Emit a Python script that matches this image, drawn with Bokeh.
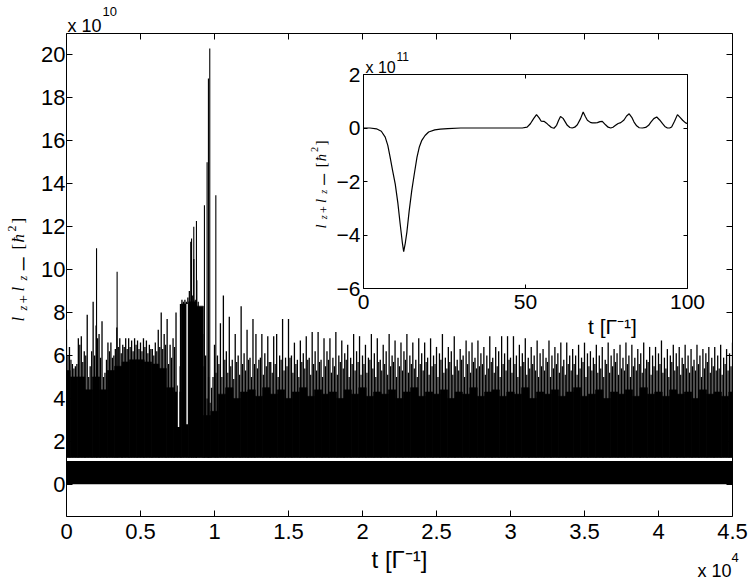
from bokeh.plotting import figure
from bokeh.models import Range1d, LinearAxis, FixedTicker, Label
from bokeh.embed import file_html
from bokeh.resources import INLINE

# ---------------- main panel data (t in 1e4 Gamma^-1, signal in 1e10 hbar^2) ----------------
spike_dt = 0.02
spike_peaks = [
    7.2, 6.4, 5.6, 5.5, 6.8, 6.9, 6.2, 7.9, 5.5, 8.5,
    7.4, 7.0, 7.6, 5.2, 6.6, 6.6, 6.0, 7.3, 6.8, 6.5,
    6.8, 6.8, 6.7, 6.8, 6.7, 6.6, 6.8, 6.7, 6.5, 6.3,
    6.6, 7.2, 8.0, 7.0, 7.7, 6.5, 6.8, 8.0, 5.5, 8.6,
    8.6, 8.7, 11.3, 10.5, 9.5, 8.0, 7.0, 6.0, 5.0, 4.5,
    6.5, 6.0, 7.5, 8.8, 6.2, 7.8, 5.8, 7.0, 6.0, 8.3,
    6.1, 7.2, 5.9, 7.7, 7.0, 5.8, 7.0, 6.1, 6.9, 5.7,
    6.9, 7.0, 6.0, 7.7, 5.9, 7.7, 6.0, 6.6, 5.8, 6.7,
    6.1, 6.9, 5.9, 7.1, 6.2, 7.1, 5.8, 6.8, 6.2, 6.8,
    5.9, 7.1, 6.0, 6.7, 6.1, 6.5, 5.9, 7.0, 6.2, 6.9,
    6.0, 6.5, 5.9, 7.0, 6.1, 6.8, 5.8, 6.5, 6.2, 7.0,
    6.0, 6.7, 5.9, 6.6, 6.2, 7.0, 6.0, 6.6, 5.8, 6.8,
    6.1, 6.6, 5.9, 6.8, 6.0, 6.4, 6.1, 7.0, 5.9, 6.4,
    6.2, 6.9, 5.8, 6.3, 6.0, 6.7, 6.2, 6.6, 5.9, 6.7,
    6.1, 6.4, 6.0, 6.9, 5.9, 6.4, 6.2, 6.9, 6.1, 6.9,
    5.9, 6.9, 6.0, 6.5, 6.1, 6.8, 5.9, 6.4, 6.0, 6.7,
    6.1, 6.3, 5.9, 6.7, 6.0, 6.4, 6.1, 6.6, 5.8, 6.6,
    6.0, 6.3, 6.0, 6.5, 5.9, 6.6, 6.1, 6.2, 5.9, 6.5,
    6.0, 6.4, 5.8, 6.6, 6.0, 6.3, 6.1, 6.5, 5.9, 6.6,
    6.0, 6.5, 5.9, 6.3, 6.1, 6.6, 5.8, 6.4, 6.0, 6.4,
    6.1, 6.7, 5.9, 6.3, 6.0, 6.5, 6.1, 6.4, 5.9, 6.5,
    6.0, 6.3, 5.8, 6.5, 6.0, 6.3, 6.1, 6.4, 5.9, 6.4,
    6.0, 6.5, 5.9, 6.3, 6.1, 6.6,
]
mid_peaks = [
    6.0, 5.8, 5.4, 5.6, 6.5, 5.7, 6.0, 5.0, 6.2, 6.0,
    6.8, 5.9, 5.0, 5.8, 6.2, 5.9, 6.3, 6.4, 6.1, 6.4,
    6.3, 6.4, 6.2, 6.5, 6.3, 6.2, 6.4, 6.1, 6.3, 6.0,
    6.2, 6.4, 6.3, 6.5, 5.6, 5.9, 6.4, 4.6, 8.4, 8.5,
    8.5, 9.0, 8.8, 8.6, 8.5, 6.5, 5.5, 4.0, 3.8, 5.0,
    5.2, 5.6, 5.0, 5.8, 5.2, 5.5, 4.9, 5.7, 5.1, 5.6,
    5.3, 5.8, 5.0, 5.6, 5.4, 5.9, 5.1, 5.5, 5.7, 5.2,
    5.6, 5.0, 5.8, 5.3, 5.5, 5.9, 5.2, 5.6, 5.0, 5.7,
    5.4, 5.8, 5.1, 5.6, 5.3, 5.7, 5.0, 5.5, 5.8, 5.2,
    5.5, 5.1, 5.7, 5.4, 5.8, 5.0, 5.6, 5.3, 5.7, 5.1,
    5.6, 5.2, 5.8, 5.4, 5.0, 5.7, 5.3, 5.6, 5.1, 5.5,
    5.7, 5.0, 5.5, 5.3, 5.8, 5.2, 5.6, 5.4, 5.0, 5.6,
    5.3, 5.7, 5.1, 5.5, 5.6, 5.0, 5.8, 5.2, 5.4, 5.7,
    5.1, 5.5, 5.3, 5.8, 5.0, 5.6, 5.2, 5.7, 5.4, 5.5,
    5.6, 5.1, 5.4, 5.7, 5.2, 5.5, 5.0, 5.6, 5.3, 5.8,
    5.2, 5.6, 5.0, 5.5, 5.7, 5.1, 5.4, 5.6, 5.3, 5.0,
    5.5, 5.3, 5.7, 5.0, 5.4, 5.6, 5.2, 5.5, 5.1, 5.6,
    5.3, 5.6, 5.1, 5.4, 5.7, 5.0, 5.5, 5.3, 5.6, 5.2,
    5.4, 5.0, 5.6, 5.2, 5.5, 5.7, 5.1, 5.4, 5.3, 5.6,
    5.0, 5.5, 5.3, 5.6, 5.2, 5.4, 5.7, 5.1, 5.5, 5.3,
    5.6, 5.2, 5.4, 5.0, 5.7, 5.3, 5.5, 5.1, 5.6, 5.4,
    5.2, 5.5, 5.3, 5.6, 5.0, 5.4, 5.7, 5.2, 5.5, 5.3,
    5.4, 5.1, 5.6, 5.3, 5.5,
]
floor_dt = 0.05
floor_levels = [
    5.3, 5.0, 5.0, 4.4, 5.0, 4.4, 5.3, 5.5, 5.7, 5.8,
    5.8, 5.7, 5.6, 5.4, 4.5, 4.3, 8.4, 8.5, 8.3, 3.2,
    3.4, 4.2, 4.5, 4.0, 4.3, 4.4, 4.1, 4.5, 4.2, 4.4,
    4.0, 4.3, 4.5, 4.1, 4.4, 4.2, 4.3, 4.0, 4.4, 4.2,
    4.5, 4.1, 4.3, 4.2, 4.4, 4.0, 4.3, 4.5, 4.1, 4.3,
    4.2, 4.4, 4.0, 4.3, 4.2, 4.5, 4.1, 4.3, 4.4, 4.1,
    4.3, 4.2, 4.5, 4.0, 4.3, 4.2, 4.4, 4.1, 4.3, 4.5,
    4.1, 4.2, 4.4, 4.0, 4.3, 4.2, 4.4, 4.1, 4.5, 4.2,
    4.3, 4.1, 4.4, 4.2, 4.3, 4.0, 4.4, 4.2, 4.3, 4.1, 4.3,
]
big_spike_t = [0.203, 0.342, 0.845, 0.860, 0.878, 0.932, 0.950, 0.959, 0.968, 1.009]
big_spike_val = [11.0, 9.9, 11.45, 12.0, 12.26, 13.0, 15.0, 18.9, 20.3, 13.47]
gap_t = [0.757, 0.815]
gap_low = [2.67, 2.8]
gap_high = [7.8, 8.4]
band_t = [0.0, 4.5]
band_low = [0.0, 0.0]
band_high = [1.08, 1.08]
upper_base = 1.25

main_xlim = [0.0, 4.5]
main_ylim = [-1.5, 21.0]
x_ticks = [0, 0.5, 1, 1.5, 2, 2.5, 3, 3.5, 4, 4.5]
x_tick_labels = ["0", "0.5", "1", "1.5", "2", "2.5", "3", "3.5", "4", "4.5"]
y_ticks = [0, 2, 4, 6, 8, 10, 12, 14, 16, 18, 20]
y_tick_labels = ["0", "2", "4", "6", "8", "10", "12", "14", "16", "18", "20"]

# ---------------- inset data (t in Gamma^-1, signal in 1e11 hbar^2) ----------------
inset_t = [0, 2, 4, 5.5, 6.7, 7.5, 8.2, 9.0, 9.8, 10.6,
           11.3, 12.0, 12.4, 12.9, 13.4, 14.1, 14.9, 15.7, 16.5, 17.2,
           18.0, 19.0, 20.1, 22.0, 23.7, 26.0, 30.0, 35.0, 40.0, 45.0,
           49.0, 50.5, 51.5, 52.5, 53.4, 54.2, 54.8, 55.7, 56.5, 57.2,
           58.0, 58.8, 59.6, 60.2, 60.8, 61.6, 62.9, 63.7, 64.4, 65.2,
           66.0, 67.0, 67.8, 68.5, 69.1, 70.0, 70.6, 71.5, 72.2, 73.0,
           73.7, 74.7, 75.5, 76.3, 77.0, 77.8, 78.6, 79.4, 80.4, 81.2,
           82.0, 82.8, 83.5, 84.3, 85.1, 86.1, 87.1, 88.0, 88.7, 89.6,
           90.5, 91.4, 92.3, 93.0, 93.8, 94.5, 95.1, 96.0, 96.9, 97.7,
           98.5, 99.3, 100.0]
inset_val = [0.0, 0.0, -0.03, -0.12, -0.34, -0.65, -1.08, -1.6, -2.1, -2.8,
             -3.57, -4.3, -4.62, -4.3, -3.88, -3.1, -2.33, -1.7, -1.1, -0.72,
             -0.46, -0.28, -0.15, -0.07, -0.04, -0.02, 0.0, 0.0, 0.0, 0.0,
             0.0, 0.03, 0.16, 0.35, 0.5, 0.38, 0.26, 0.25, 0.18, 0.1,
             0.02, -0.01, 0.1, 0.28, 0.43, 0.36, 0.1, 0.02, 0.0, 0.03,
             0.12, 0.35, 0.6, 0.42, 0.29, 0.21, 0.19, 0.19, 0.2, 0.24,
             0.25, 0.12, 0.03, 0.0, 0.03, 0.1, 0.17, 0.2, 0.3, 0.45,
             0.53, 0.4, 0.22, 0.08, 0.01, 0.0, 0.02, 0.1, 0.22, 0.35,
             0.41, 0.3, 0.16, 0.06, 0.0, 0.0, 0.04, 0.25, 0.5, 0.4,
             0.29, 0.2, 0.16]
inset_xlim = [0, 100]
inset_ylim = [-6, 2]
inset_x_ticks = [0, 50, 100]
inset_x_tick_labels = ["0", "50", "100"]
inset_y_ticks = [-6, -4, -2, 0, 2]
inset_y_tick_labels = ["\u22126", "\u22124", "\u22122", "0", "2"]

# ---------------- layout (canvas pixels) ----------------
W, H = 748, 580
FL, FR, FT, FB = 66, 732, 33, 516          # main axes box
IL, IR, IT, IB = 363, 687, 74, 288         # inset axes box
SANS = "Liberation Sans"
SERIF = "Liberation Serif"


def span(lim, a, b, total):
    """range whose [lim] maps onto pixels a..b of a canvas 0..total"""
    per_px = (lim[1] - lim[0]) / (b - a)
    return lim[0] - a * per_px, lim[1] + (total - b) * per_px


mx0, mx1 = span(main_xlim, FL, FR, W)
my1, my0 = span(main_ylim[::-1], FT, FB, H)
ix0, ix1 = span(inset_xlim, IL, IR, W)
iy1, iy0 = span(inset_ylim[::-1], IT, IB, H)


def dx(px):
    return mx0 + px * (mx1 - mx0) / W


def dy(py):
    return my1 - py * (my1 - my0) / H


p = figure(width=W, height=H, x_range=Range1d(mx0, mx1), y_range=Range1d(my0, my1),
           x_axis_location=None, y_axis_location=None, title=None,
           output_backend="svg", toolbar_location=None, min_border=0,
           background_fill_color="white", border_fill_color="white")
p.grid.visible = False
p.outline_line_color = None
p.extra_x_ranges = {"ix": Range1d(ix0, ix1)}
p.extra_y_ranges = {"iy": Range1d(iy0, iy1)}


def add_axis(side, ticks, labels, loc, bounds, size, standoff, tick_len, **rng):
    ax = LinearAxis(ticker=FixedTicker(ticks=ticks), fixed_location=loc, bounds=bounds, **rng)
    ax.major_label_overrides = {t: s for t, s in zip(ticks, labels)}
    ax.major_tick_in = tick_len
    ax.major_tick_out = 0
    ax.minor_tick_line_color = None
    ax.axis_line_color = "black"
    ax.axis_line_width = 1
    ax.major_tick_line_color = "black"
    ax.major_label_text_font = SANS
    ax.major_label_text_font_size = f"{size}px"
    ax.major_label_text_color = "black" if size else None
    ax.major_label_standoff = standoff
    p.add_layout(ax, side)
    return ax


# ---------------- main signal ----------------
spike_t = [round(i * spike_dt, 4) for i in range(len(spike_peaks))]
mid_t = [round(spike_dt / 2 + i * spike_dt, 4) for i in range(len(mid_peaks))]
floor_t = [round(i * floor_dt, 4) for i in range(len(floor_levels))]

p.varea(x=band_t, y1=band_low, y2=band_high, fill_color="black")
p.vbar(x=floor_t, width=floor_dt, bottom=upper_base, top=floor_levels,
       fill_color="black", line_color="black", line_width=0.6)
p.segment(x0=spike_t, y0=upper_base, x1=spike_t, y1=spike_peaks, line_color="black", line_width=1.3)
p.segment(x0=mid_t, y0=upper_base, x1=mid_t, y1=mid_peaks, line_color="black", line_width=1.25)
p.segment(x0=gap_t, y0=gap_low, x1=gap_t, y1=gap_high, line_color="white", line_width=1.4)
p.segment(x0=big_spike_t, y0=upper_base, x1=big_spike_t, y1=big_spike_val, line_color="black", line_width=1.1)

# white margins outside the main box (the frame spans the whole canvas)
p.quad(left=[mx0, main_xlim[1]], right=[main_xlim[0], mx1], bottom=[my0, my0], top=[my1, my1],
       fill_color="white", line_color=None)

# ---------------- main axes ----------------
xa = add_axis("below", x_ticks, x_tick_labels, main_ylim[0], tuple(main_xlim), 22, 7, 6)
xa.axis_label = "t [\u0393\u207b\u00b9]"
xa.axis_label_text_font = SANS
xa.axis_label_text_font_style = "normal"
xa.axis_label_text_font_size = "24px"
xa.axis_label_text_color = "black"
xa.axis_label_standoff = 4
add_axis("left", y_ticks, y_tick_labels, main_xlim[0], tuple(main_ylim), 22, 1, 6)
add_axis("above", x_ticks, [""] * len(x_ticks), main_ylim[1], tuple(main_xlim), 0, 0, 6)
add_axis("right", y_ticks, [""] * len(y_ticks), main_xlim[1], tuple(main_ylim), 0, 0, 6)

# ---------------- inset ----------------
IRN = dict(x_range_name="ix", y_range_name="iy")
p.quad(left=[inset_xlim[0]], right=[inset_xlim[1]], bottom=[inset_ylim[0]], top=[inset_ylim[1]],
       fill_color="white", line_color=None, **IRN)
p.line(inset_t, inset_val, line_color="black", line_width=1.2, **IRN)
add_axis("below", inset_x_ticks, inset_x_tick_labels, inset_ylim[0], tuple(inset_xlim), 21, 6, 4, **IRN)
add_axis("left", inset_y_ticks, inset_y_tick_labels, inset_xlim[0], tuple(inset_ylim), 21, 3, 4, **IRN)
add_axis("above", inset_x_ticks, [""] * 3, inset_ylim[1], tuple(inset_xlim), 0, 0, 4, **IRN)
add_axis("right", inset_y_ticks, [""] * 5, inset_xlim[1], tuple(inset_ylim), 0, 0, 4, **IRN)


# ---------------- texts ----------------
def put(text, px, py, size, font=SANS, style="normal", align="left", angle=0):
    p.add_layout(Label(x=dx(px), y=dy(py), text=text, text_font=font,
                       text_font_size=f"{size}px", text_font_style=style,
                       text_align=align, text_baseline="alphabetic",
                       angle=angle, angle_units="deg", text_color="black"))


put("x 10", FL + 1, 25, 18)
put("10", FL + 36, 11, 13)
put("x 10", 697, 570, 18)
put("4", 731, 557, 13)
put("x 10", IL + 2, 67, 16)
put("11", IL + 33, 56, 12)
put("t [\u0393\u207b\u00b9]", 612, 326, 21, align="center")

# rotated y labels: (text, offset along text, baseline shift, size, font, style)
ylab = [
    ("l", 0, 0, 17, SERIF, "italic"),
    ("z", 11, 4, 12, SERIF, "italic"),
    ("+", 18, 4, 15, SERIF, "normal"),
    ("l", 30, 0, 17, SERIF, "italic"),
    ("z", 41, 4, 12, SERIF, "italic"),
    ("\u2212", 50, 5, 28, SERIF, "normal"),
    ("[", 72, 0, 17, SERIF, "normal"),
    ("\u0127", 79, 0, 17, SERIF, "italic"),
    ("2", 90, -7, 12, SERIF, "normal"),
    ("]", 98, 0, 17, SERIF, "normal"),
]


def rot_label(base_px, start_py, scale):
    for txt, off, shift, size, font, style in ylab:
        put(txt, base_px + shift * scale, start_py - off * scale, round(size * scale, 1),
            font=font, style=style, angle=90)


rot_label(18, 321, 1.0)
rot_label(320, 228, 0.85)

open("out.html", "w").write(file_html(p, INLINE))
